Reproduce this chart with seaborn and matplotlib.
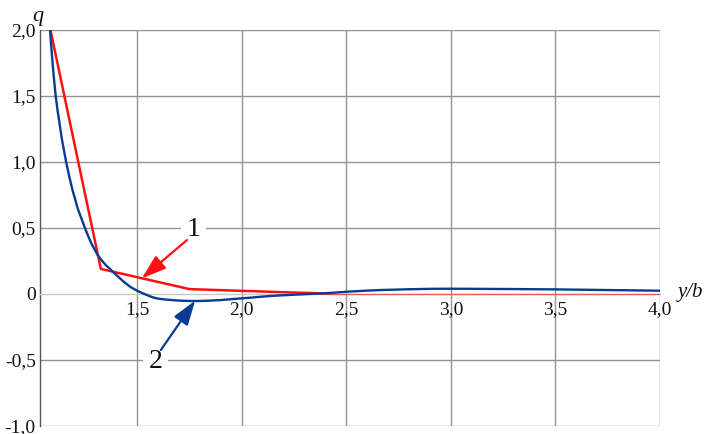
import matplotlib
matplotlib.use("Agg")
import matplotlib.pyplot as plt
from matplotlib.ticker import MultipleLocator, FixedLocator, FuncFormatter
import pandas as pd
import seaborn as sns

# Curve 1: piecewise-linear approximation
x1 = [1.085, 1.326, 1.750, 2.230, 2.420]
q1 = [2.000, 0.190, 0.037, 0.012, 0.003]
# tail of curve 1 lying on the axis
x1_tail = [2.420, 4.000]
q1_tail = [0.003, 0.003]

# Curve 2: smooth solution
x2 = [1.083, 1.090, 1.100, 1.110, 1.120, 1.130, 1.140, 1.150, 1.160, 1.175,
      1.190, 1.200, 1.215, 1.230, 1.250, 1.265, 1.280, 1.295, 1.311, 1.330,
      1.350, 1.370, 1.386, 1.410, 1.430, 1.450, 1.466, 1.490, 1.510, 1.530,
      1.562, 1.580, 1.600, 1.630, 1.658, 1.700, 1.753, 1.800, 1.849, 1.900,
      1.945, 2.000, 2.040, 2.090, 2.137, 2.180, 2.230, 2.310, 2.390, 2.450,
      2.500, 2.580, 2.663, 2.800, 2.900, 3.000, 3.250, 3.500, 3.750, 4.000]
q2 = [2.000, 1.850, 1.660, 1.500, 1.380, 1.276, 1.170, 1.085, 1.000, 0.890,
      0.790, 0.735, 0.650, 0.585, 0.500, 0.440, 0.386, 0.340, 0.295, 0.255,
      0.218, 0.190, 0.164, 0.130, 0.100, 0.075, 0.055, 0.033, 0.017, 0.003,
      -0.018, -0.028, -0.035, -0.041, -0.045, -0.050, -0.053, -0.053, -0.050, -0.046,
      -0.040, -0.033, -0.028, -0.021, -0.015, -0.011, -0.007, -0.001, 0.005, 0.011,
      0.017, 0.024, 0.030, 0.036, 0.039, 0.040, 0.038, 0.035, 0.030, 0.025]

x_ticks = [1.5, 2.0, 2.5, 3.0, 3.5, 4.0]
y_ticks = [-1.0, -0.5, 0.0, 0.5, 1.0, 1.5, 2.0]

RED = "#ff1010"
BLUE = "#0b3a92"
GRID = "#939393"
INK = "#111111"

sns.set_theme(style="white")
plt.rcParams["font.family"] = ["Liberation Serif", "DejaVu Serif"]

W, H = 704, 434
fig = plt.figure(figsize=(W / 100, H / 100), dpi=100)
ax = fig.add_axes([40 / W, 8 / H, 620 / W, 396 / H])

df1 = pd.DataFrame({"x": x1, "q": q1})
df1t = pd.DataFrame({"x": x1_tail, "q": q1_tail})
df2 = pd.DataFrame({"x": x2, "q": q2})

sns.lineplot(data=df1t, x="x", y="q", ax=ax, color=RED, lw=1.0, alpha=0.6,
             sort=False, estimator=None, zorder=3)
sns.lineplot(data=df1, x="x", y="q", ax=ax, color=RED, lw=1.8,
             sort=False, estimator=None, zorder=4)
sns.lineplot(data=df2, x="x", y="q", ax=ax, color=BLUE, lw=1.7,
             sort=False, estimator=None, zorder=5)

ax.set_xlim(1.035, 4.0)
ax.set_ylim(-1.0, 2.0)
ax.set_xlabel("")
ax.set_ylabel("")

ax.xaxis.set_major_locator(FixedLocator(x_ticks))
ax.xaxis.set_minor_locator(MultipleLocator(0.1))
ax.yaxis.set_major_locator(FixedLocator(y_ticks))
ax.yaxis.set_minor_locator(MultipleLocator(0.1))


def comma(v, pos):
    if abs(v) < 1e-9:
        return "0"
    return f"{v:.1f}".replace(".", ",")


ax.xaxis.set_major_formatter(FuncFormatter(comma))
ax.yaxis.set_major_formatter(FuncFormatter(comma))

ax.grid(True, which="major", color=GRID, lw=1.0, zorder=0)
for v, gl in zip(y_ticks, ax.yaxis.get_gridlines()):
    if abs(v) < 1e-9:
        gl.set_visible(False)

for s in ("top", "right"):
    ax.spines[s].set_visible(False)
ax.spines["left"].set_color("#555555")
ax.spines["left"].set_linewidth(1.0)
ax.spines["bottom"].set_position(("data", 0.0))
ax.spines["bottom"].set_color("#c8c8c8")
ax.spines["bottom"].set_linewidth(1.0)

ax.tick_params(axis="x", which="both", direction="in", colors="#aaaaaa",
               labelcolor=INK, labelsize=14, pad=5)
ax.tick_params(axis="x", which="major", length=0)
ax.tick_params(axis="x", which="minor", length=2.5, width=0.8)
ax.tick_params(axis="y", which="both", direction="in", colors="#666666",
               labelcolor=INK, labelsize=14, pad=3)
ax.tick_params(axis="y", which="major", length=3, width=0.8)
ax.tick_params(axis="y", which="minor", length=2.5, width=0.8)

fig.text(38 / W, 1 - 17 / H, "q", fontsize=16, style="italic",
         ha="center", va="center", color=INK)
fig.text(690 / W, 1 - 292 / H, "y/b", fontsize=15, style="italic",
         ha="center", va="center", color=INK)

# curve labels with pointer arrows
box = dict(boxstyle="square,pad=0.2", fc="white", ec="none")
ax.text(1.768, 0.49, "1", fontsize=20, ha="center", va="center",
        color=INK, bbox=box, zorder=6)
ax.text(1.586, -0.515, "2", fontsize=20, ha="center", va="center",
        color=INK, bbox=box, zorder=6)

head = "-|>,head_length=0.75,head_width=0.25"
ax.annotate("", xy=(1.522, 0.119), xytext=(1.738, 0.409),
            arrowprops=dict(arrowstyle=head, color=RED, lw=1.6,
                            shrinkA=0, shrinkB=0, mutation_scale=20),
            zorder=7)
ax.annotate("", xy=(1.777, -0.05), xytext=(1.613, -0.424),
            arrowprops=dict(arrowstyle=head, color=BLUE, lw=1.6,
                            shrinkA=0, shrinkB=0, mutation_scale=20),
            zorder=7)

fig.savefig("out.png", dpi=100, facecolor="white")
